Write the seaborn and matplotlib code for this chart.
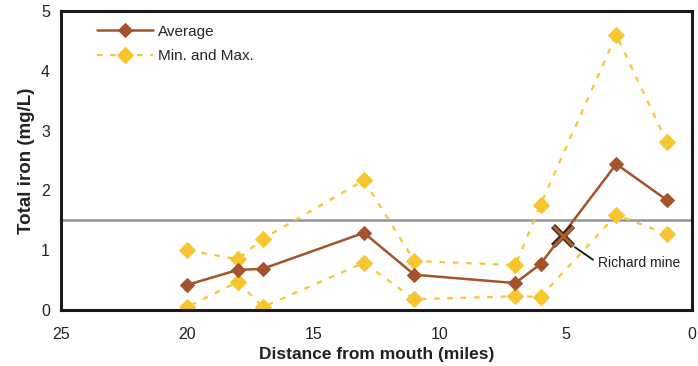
import matplotlib
matplotlib.use("Agg")
import matplotlib.pyplot as plt
import seaborn as sns
import pandas as pd

# Sampling sites, miles upstream from the mouth
distance = [20, 18, 17, 13, 11, 7, 6, 3, 1]
average = [0.42, 0.67, 0.69, 1.29, 0.59, 0.45, 0.77, 2.44, 1.84]
maximum = [1.00, 0.85, 1.19, 2.17, 0.82, 0.75, 1.76, 4.60, 2.81]
minimum = [0.05, 0.47, 0.05, 0.79, 0.18, 0.23, 0.22, 1.59, 1.27]

standard_level = 1.5
mine_distance = 5.1
mine_iron = 1.24

x_ticks = [25, 20, 15, 10, 5, 0]
y_ticks = [0, 1, 2, 3, 4, 5]

sns.set_theme(style="white")
plt.rcParams["font.family"] = ["Liberation Sans", "DejaVu Sans"]

df = pd.DataFrame({"distance": distance, "average": average,
                   "maximum": maximum, "minimum": minimum})

fig = plt.figure(figsize=(6.98, 3.66), dpi=100)
ax = fig.add_axes([0.0874, 0.153, 0.904, 0.817])

brown = "#A4532A"
gold = "#F7C62F"

ax.axhline(standard_level, color="#8E959C", lw=1.8, zorder=1)

sns.lineplot(data=df, x="distance", y="maximum", ax=ax, color=gold,
             lw=1.6, linestyle=(0, (2.5, 3.5)), marker="D", markersize=8.5,
             markeredgecolor=gold, label="Min. and Max.", zorder=2)
sns.lineplot(data=df, x="distance", y="minimum", ax=ax, color=gold,
             lw=1.6, linestyle=(0, (2.5, 3.5)), marker="D", markersize=8.5,
             markeredgecolor=gold, label="_nolegend_", zorder=2)
sns.lineplot(data=df, x="distance", y="average", ax=ax, color=brown,
             lw=1.8, marker="D", markersize=7.5, markeredgecolor=brown,
             label="Average", zorder=3)

# Mine location: dark outline under a brown cross
ax.plot([mine_distance], [mine_iron], marker="x", markersize=15,
        markeredgewidth=4.2, color="#3a2418", zorder=4, linestyle="none")
ax.plot([mine_distance], [mine_iron], marker="x", markersize=14,
        markeredgewidth=2.2, color="#B0602F", zorder=5, linestyle="none")
ax.plot([4.64, 3.92], [1.05, 0.84], color="#111111", lw=1.3, zorder=5)
ax.text(3.72, 0.79, "Richard mine", fontsize=10, color="#222222",
        ha="left", va="center")

ax.set_xlim(25, 0)
ax.set_ylim(0, 5)
ax.set_xticks(x_ticks)
ax.set_yticks(y_ticks)
ax.tick_params(axis="both", direction="out", length=4, width=1,
               color="#333333", labelsize=11.5, labelcolor="#222222", pad=4)
ax.tick_params(axis="x", pad=8)
ax.set_xlabel("Distance from mouth (miles)", fontsize=12.5, fontweight="bold",
              color="#222222", labelpad=4)
ax.set_ylabel("Total iron (mg/L)", fontsize=13.5, fontweight="bold",
              color="#222222", labelpad=4)

for side in ["left", "bottom", "top", "right"]:
    ax.spines[side].set_visible(True)
    ax.spines[side].set_color("#1a1a1a")
    ax.spines[side].set_linewidth(2.2)

handles, labels = ax.get_legend_handles_labels()
order = [labels.index("Average"), labels.index("Min. and Max.")]
ax.legend([handles[i] for i in order], [labels[i] for i in order],
          loc="upper left", bbox_to_anchor=(0.035, 1.0), frameon=False,
          fontsize=11, handlelength=3.7, handletextpad=0.3,
          labelspacing=0.7)

fig.savefig("out.png", dpi=100)
